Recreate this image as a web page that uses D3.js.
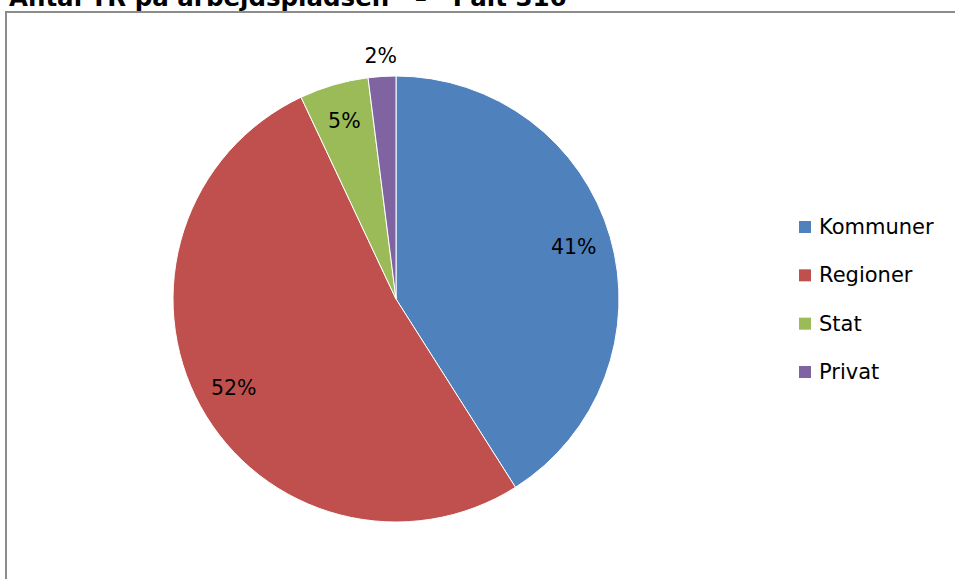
<!DOCTYPE html>
<html>
<head>
<meta charset="utf-8">
<script src="https://cdn.jsdelivr.net/npm/d3@7"></script>
<style>
  body { margin: 0; background: #fff; }
  #chart { width: 955px; height: 579px; overflow: hidden; }
  text { font-family: "DejaVu Sans", Verdana, sans-serif; fill: #000; }
  .title { font-weight: bold; font-size: 24.5px; white-space: pre; }
  .lbl { font-size: 20.5px; }
  .legend text { font-size: 21px; }
</style>
</head>
<body>
<div id="chart"></div>
<script>
// data
const categories = ["Kommuner", "Regioner", "Stat", "Privat"];
const shares = [41, 52, 5, 2];
const colours = ["#4F81BD", "#C0504D", "#9BBB59", "#8064A2"];
const titleText = "Antal TR på arbejdspladsen   –   I alt 316";

const width = 955, height = 579;

const svg = d3.select("#chart")
    .append("svg")
    .attr("width", width)
    .attr("height", height);

// outer frame (runs off the bottom/right of the picture)
svg.append("rect")
    .attr("x", 6)
    .attr("y", 12)
    .attr("width", width + 20)
    .attr("height", height + 20)
    .attr("fill", "#fff")
    .attr("stroke", "#8c8c8c")
    .attr("stroke-width", 2);

// title, its top half cut off by the top of the page as in the original
svg.append("text")
    .attr("class", "title")
    .attr("x", 9)
    .attr("y", 6)
    .text(titleText);

// pie
const cx = 396, cy = 299, radius = 223;

const pie = d3.pie().sort(null).value(d => d.value);
const arc = d3.arc().innerRadius(0).outerRadius(radius);
const labelArc = d3.arc().innerRadius(radius * 0.83).outerRadius(radius * 0.83);
const outsideArc = d3.arc().innerRadius(radius + 20).outerRadius(radius + 20);

const slices = pie(categories.map((c, i) => ({ name: c, value: shares[i] })));

const g = svg.append("g").attr("transform", `translate(${cx},${cy})`);

g.selectAll("path")
    .data(slices)
    .enter()
    .append("path")
    .attr("d", arc)
    .attr("fill", (d, i) => colours[i])
    .attr("stroke", "#fff")
    .attr("stroke-width", 1);

// small slices get their label outside the pie
g.selectAll("text.lbl")
    .data(slices)
    .enter()
    .append("text")
    .attr("class", "lbl")
    .attr("transform", d => {
        const p = d.data.value < 3 ? outsideArc.centroid(d) : labelArc.centroid(d);
        return `translate(${p[0]},${p[1]})`;
    })
    .attr("text-anchor", "middle")
    .attr("dominant-baseline", "central")
    .text(d => d.data.value + "%");

// legend
const legendY = d3.scalePoint()
    .domain(categories)
    .range([227, 372]);

const legend = svg.append("g").attr("class", "legend");

const rows = legend.selectAll("g")
    .data(categories)
    .enter()
    .append("g")
    .attr("transform", d => `translate(799,${legendY(d)})`);

rows.append("rect")
    .attr("x", 0)
    .attr("y", -6)
    .attr("width", 12)
    .attr("height", 12)
    .attr("fill", (d, i) => colours[i]);

rows.append("text")
    .attr("x", 20)
    .attr("y", 0)
    .attr("dominant-baseline", "central")
    .text(d => d);
</script>
</body>
</html>
